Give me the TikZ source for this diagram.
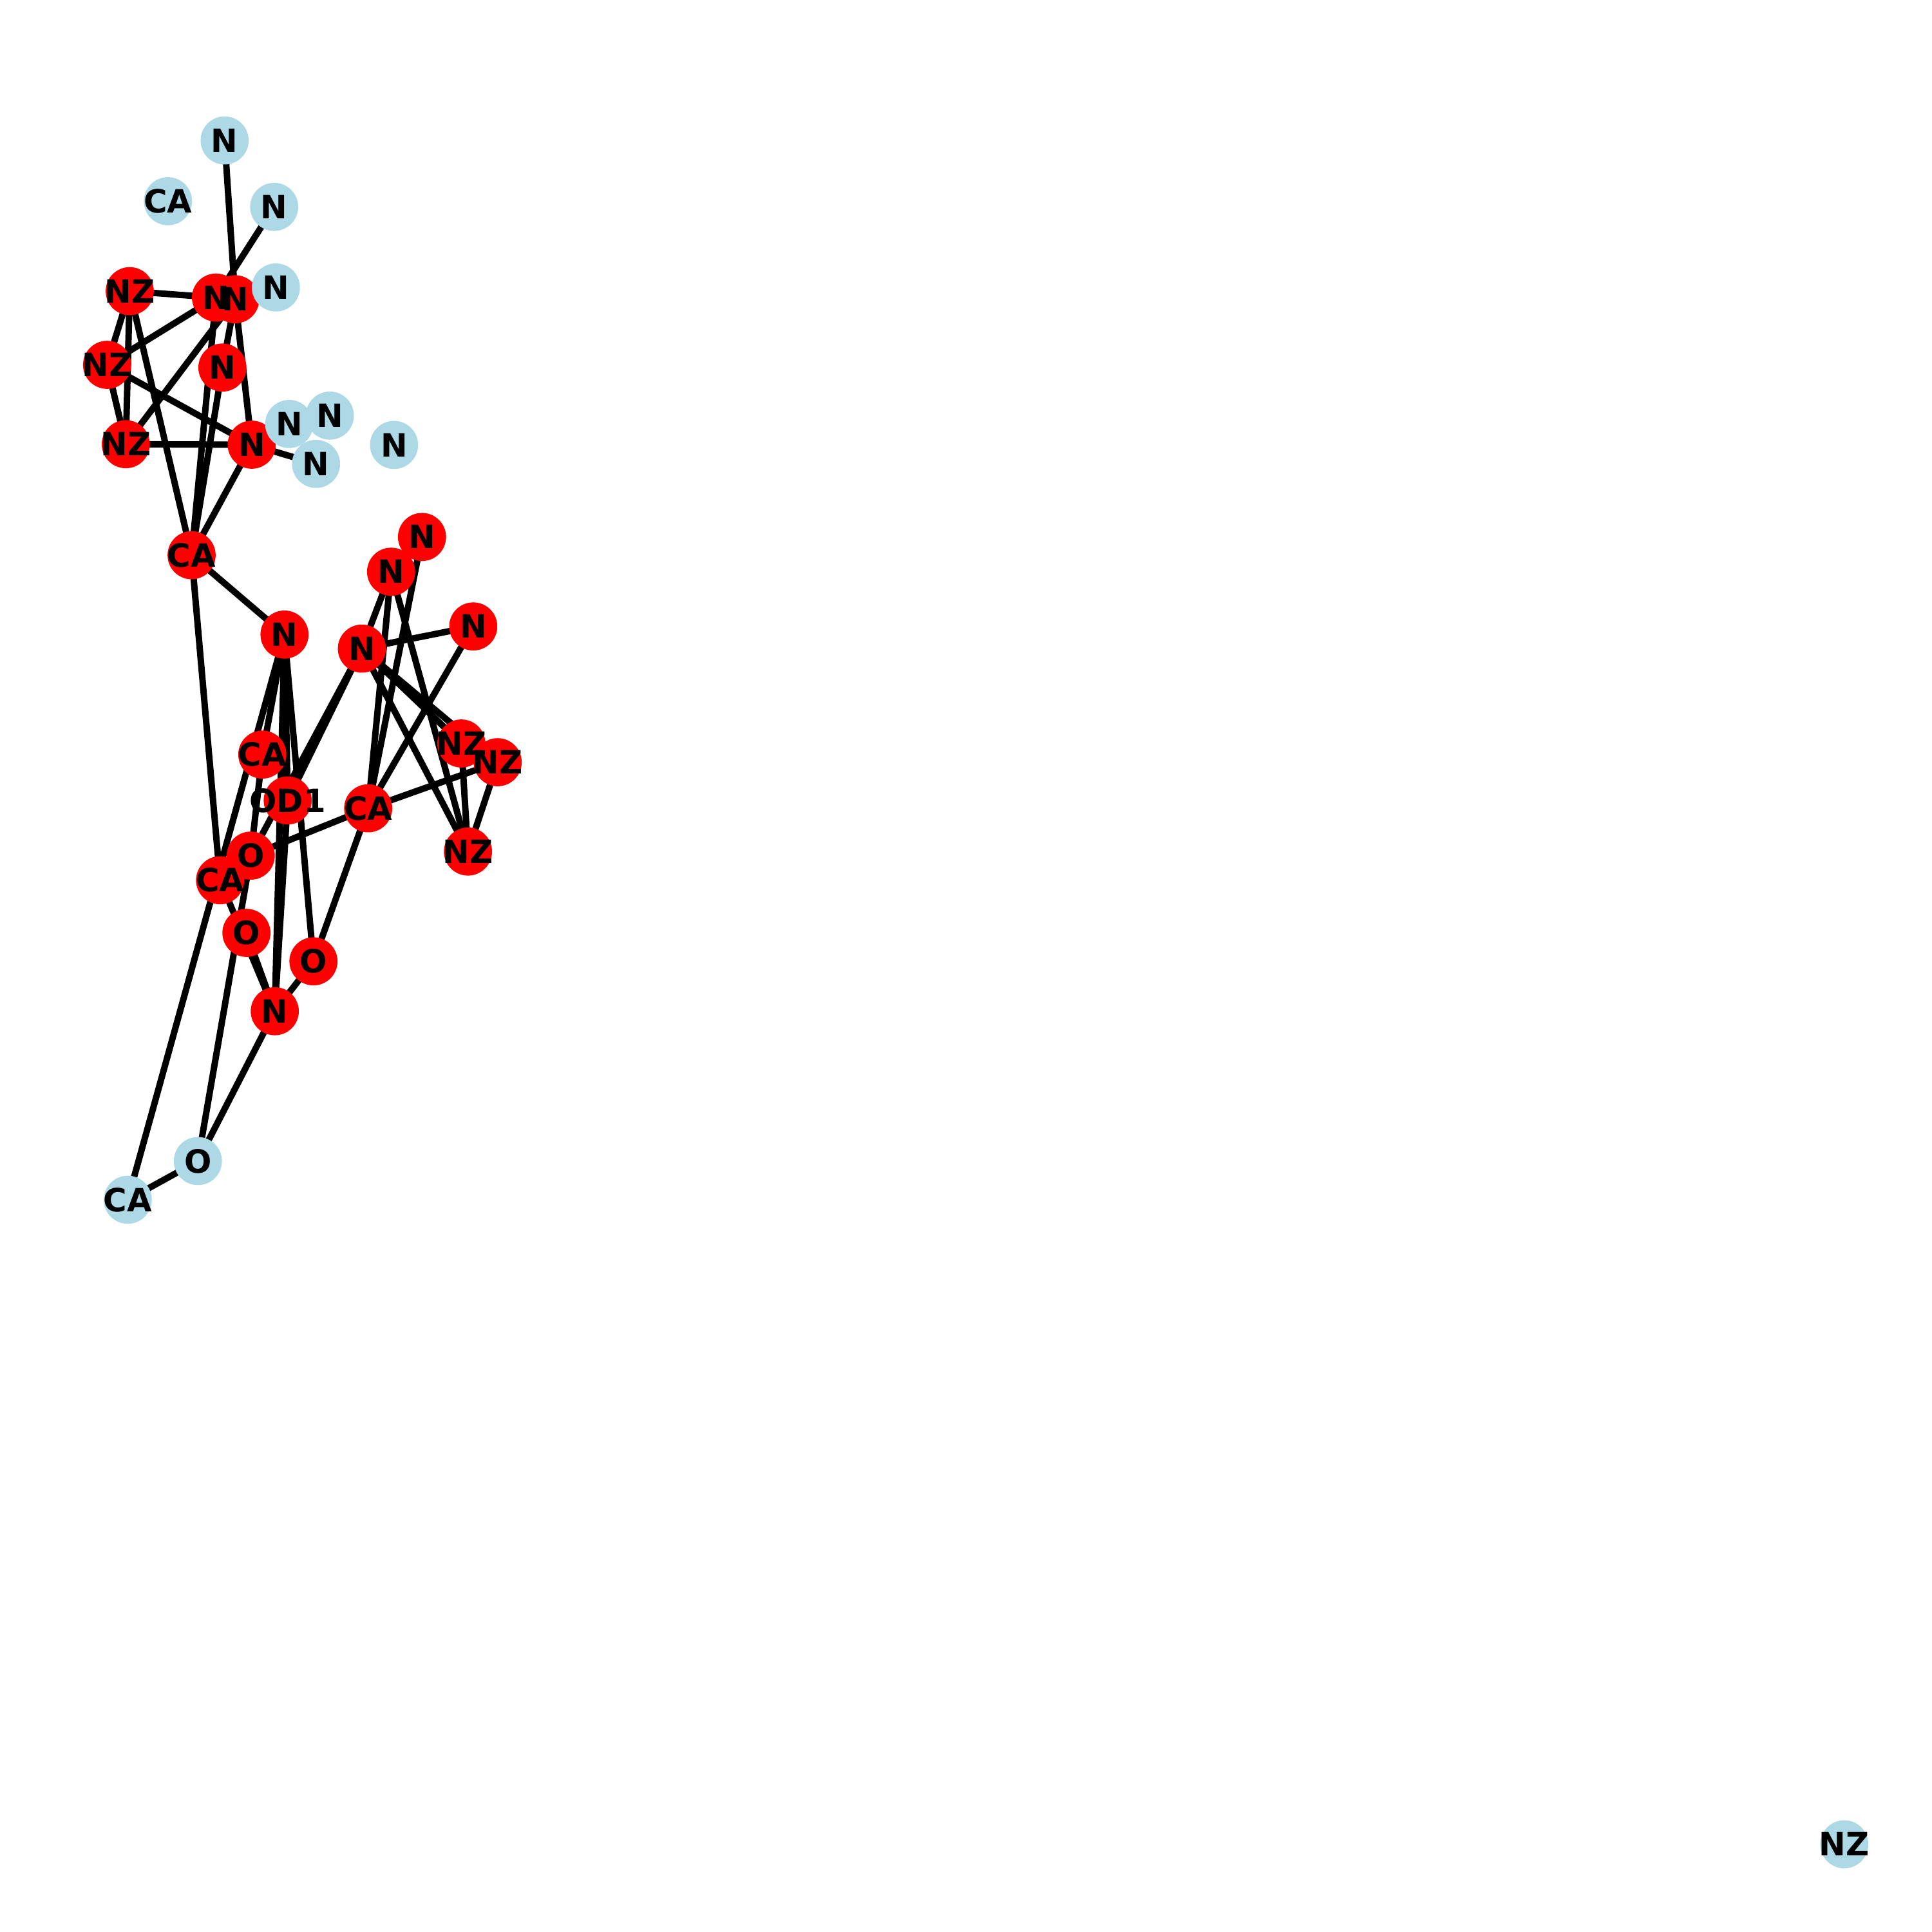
\documentclass[tikz,border=0pt]{standalone}
\usepackage{fontspec}
\setmainfont{DejaVu Sans}
\usepackage{xcolor}
\definecolor{hitRed}{HTML}{FF0000}
\definecolor{missBlue}{HTML}{ADD8E6}
\pgfdeclarelayer{background}
\pgfdeclarelayer{labels}
\pgfsetlayers{background,main,labels}

% atoms: index/x/y/label
\def\hitlist{1/105.3/236.3/NZ, 2/175.3/241.5/N, 3/190.9/242.9/N, 4/86.9/296.1/NZ,
  5/180.5/298.3/N, 6/102.1/360.5/NZ, 7/204.3/360.9/N, 8/155.5/450.6/CA,
  9/342.5/435.8/N, 10/317.4/464.0/N, 11/384.1/508.4/N, 12/230.9/515.0/N,
  13/293.7/526.4/N, 14/374.4/603.4/NZ, 15/403.9/618.6/NZ, 16/212.9/612.4/CA,
  17/233.5/649.6/OD1, 18/298.8/656.0/CA, 19/379.8/691.1/NZ, 21/178.6/714.4/CA,
  20/203.5/694.4/O, 22/200.0/757.1/O, 23/254.4/780.2/O, 24/223.0/820.7/N}
\def\misslist{1/182.3/114.0/N, 2/136.3/163.3/CA, 3/222.5/167.9/N, 4/223.9/233.3/N,
  5/234.7/344.1/N, 6/267.7/337.3/N, 7/256.5/376.5/N, 8/319.8/361.1/N,
  9/160.6/942.3/O, 10/103.7/973.7/CA, 11/1496.8/1496.8/NZ}

\begin{document}
\begin{tikzpicture}[
  x=0.016199cm, y=-0.016199cm,
  every node/.style={font=\fontsize{12}{14}\selectfont\bfseries},
  hit/.style={circle, fill=hitRed, minimum size=18pt, inner sep=0pt},
  miss/.style={circle, fill=missBlue, minimum size=18pt, inner sep=0pt},
  bond/.style={draw=black, line width=2.4pt}
]
\useasboundingbox (0,0) rectangle (1568,1568);

\foreach \i/\x/\y/\lab in \hitlist
  \node[hit] (r\i) at (\x,\y) {};
\foreach \i/\x/\y/\lab in \misslist
  \node[miss] (b\i) at (\x,\y) {};

\begin{pgfonlayer}{background}
\foreach \p/\q in {r1/r2, r2/r4, r1/r4, r1/r6, r4/r6, r1/r8, r4/r7, r6/r7,
    r7/b7, r7/r8, r2/r8, r3/r5, r5/r8, r3/r7, r6/r3, b1/r3, b3/r2,
    r8/r12, r8/r21, r9/r18, r10/r13, r10/r18, r10/r19, r13/r11, r11/r18,
    r13/r14, r13/r15, r13/r19, r14/r19, r15/r19, r15/r18, r18/r20, r18/r23,
    r12/r23, r12/r24, r12/r17, r17/r24, r12/r16, r16/r20, r13/r17, r13/r20,
    r21/r24, r22/r24, r23/r24, r24/b9, b9/r20, b9/b10, b10/r12}
  \draw[bond] (\p.center) -- (\q.center);
\end{pgfonlayer}

\begin{pgfonlayer}{labels}
\foreach \i/\x/\y/\lab in \hitlist
  \node (r\i-t) at (r\i) {\lab};
\foreach \i/\x/\y/\lab in \misslist
  \node (b\i-t) at (b\i) {\lab};
\end{pgfonlayer}
\end{tikzpicture}
\end{document}
